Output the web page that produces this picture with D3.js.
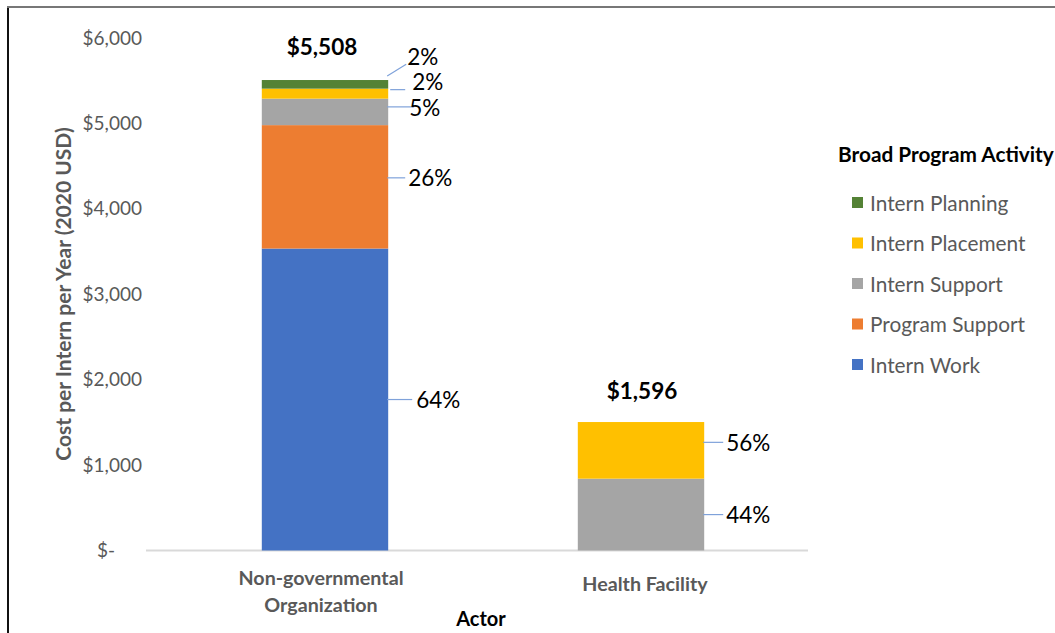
<!DOCTYPE html>
<html><head><meta charset="utf-8">
<script src="https://cdn.jsdelivr.net/npm/d3@7"></script>
<style>
html,body{margin:0;padding:0;background:#fff;}
svg{display:block;font-family:Lato,"Open Sans",sans-serif;}
</style></head>
<body>
<svg id="chart" width="1055" height="633"></svg>
<script>
// ---- data ----
const categories = ["Non-governmental Organization", "Health Facility"];
const categoryLines = [["Non-governmental", "Organization"], ["Health Facility"]];
const seriesNames = ["Intern Work", "Program Support", "Intern Support", "Intern Placement", "Intern Planning"];
const internWork      = [3535, 0];
const programSupport  = [1445, 0];
const internSupport   = [310, 841];
const internPlacement = [117, 663];
const internPlanning  = [101, 0];
const totalLabels = ["$5,508", "$1,596"];
const pctNGO = ["64%", "26%", "5%", "2%", "2%"];
const pctHF  = [null, null, "44%", "56%", null];
const yTicks = [0, 1000, 2000, 3000, 4000, 5000, 6000];
const colors = ["#4472C4", "#ED7D31", "#A5A5A5", "#FFC000", "#548235"];

const seriesValues = [internWork, programSupport, internSupport, internPlacement, internPlanning];
const pctLabels = [pctNGO, pctHF];

// ---- layout ----
const svg = d3.select("#chart");
// border
svg.append("line").attr("x1", 8).attr("y1", 7).attr("x2", 8).attr("y2", 633).attr("stroke", "#111").attr("stroke-width", 2);
svg.append("line").attr("x1", 7).attr("y1", 7).attr("x2", 1055).attr("y2", 7).attr("stroke", "#777").attr("stroke-width", 2);

const x = d3.scaleBand().domain(categories).range([167, 799]).paddingInner(0.6).paddingOuter(0.3);
const y = d3.scaleLinear().domain([0, 6000]).range([550.5, 38]);

// y axis labels
const yAxis = d3.axisLeft(y).tickValues(yTicks).tickSize(0).tickPadding(4)
  .tickFormat(d => d === 0 ? "$-" : "$" + d3.format(",")(d));
const gy = svg.append("g").attr("transform", "translate(146,0)").call(yAxis);
gy.select(".domain").remove();
gy.selectAll("text").attr("font-size", 19).attr("fill", "#595959").attr("font-family", "Lato")
  .attr("dx", d => d === 0 ? -27 : 0);

// baseline
svg.append("line").attr("x1", 146).attr("x2", 808).attr("y1", y(0)).attr("y2", y(0))
  .attr("stroke", "#D9D9D9").attr("stroke-width", 2);

// stacked data
const rows = categories.map((c, i) => {
  const o = { cat: c };
  seriesNames.forEach((s, j) => o[s] = seriesValues[j][i]);
  return o;
});
const stack = d3.stack().keys(seriesNames)(rows);

stack.forEach((layer, j) => {
  svg.append("g").selectAll("rect").data(layer).join("rect")
    .attr("x", d => x(d.data.cat))
    .attr("width", x.bandwidth())
    .attr("y", d => y(d[1]))
    .attr("height", d => y(d[0]) - y(d[1]))
    .attr("fill", colors[j]);
});

// percent labels with leader lines
const nudge = [[0, -9, -5, -4, -20], [0, 0, 0, -8, 0]]; // label y offset from segment middle
const textDy = [[0, 0, 1, -8, -8], [0, 0, 0, 0, 0]];
const lineStartDx = [[0, 0, 0, 3, 0], [0, 0, 0, 0, 0]];
const lineEndDx = [[24, 17, 26, 17, 18], [19, 19, 19, 19, 19]];
const textDx = [[28, 20, 21, 24, 19], [22, 22, 22, 22, 22]];
const lbl = svg.append("g");
stack.forEach((layer, j) => {
  layer.forEach((d, i) => {
    const t = pctLabels[i][j];
    if (!t) return;
    const xr = x(d.data.cat) + x.bandwidth();
    const mid = (y(d[0]) + y(d[1])) / 2;
    const ly = mid + nudge[i][j];
    if (j === 4 && i === 0) {
      lbl.append("line").attr("x1", xr - 1).attr("y1", y(d[1]) - 4).attr("x2", xr + lineEndDx[i][j]).attr("y2", ly)
        .attr("stroke", "#7FA2DA").attr("stroke-width", 1.2);
    } else {
      lbl.append("line").attr("x1", xr - 1 + lineStartDx[i][j]).attr("y1", ly).attr("x2", xr + lineEndDx[i][j]).attr("y2", ly)
        .attr("stroke", "#7FA2DA").attr("stroke-width", 1.2);
    }
    lbl.append("text").attr("x", xr + textDx[i][j]).attr("y", ly + textDy[i][j])
      .attr("dominant-baseline", "central").attr("font-size", 22.5).attr("fill", "#000").text(t);
  });
});

// totals
const catDx = [-4, 4];
const totals = rows.map(r => d3.sum(seriesNames, s => r[s]));
svg.append("g").selectAll("text").data(categories).join("text")
  .attr("x", (d, i) => x(d) + x.bandwidth() / 2 + (i === 0 ? -3 : 1))
  .attr("y", (d, i) => y(totals[i]) - (i === 0 ? 34 : 32))
  .attr("text-anchor", "middle").attr("dominant-baseline", "central")
  .attr("font-size", 22.5).attr("font-weight", "bold").attr("fill", "#000")
  .text((d, i) => totalLabels[i]);

// x category labels
categories.forEach((c, i) => {
  const lines = categoryLines[i];
  const t = svg.append("text").attr("text-anchor", "middle").attr("font-size", 19.7)
    .attr("font-weight", "bold").attr("fill", "#595959");
  lines.forEach((l, k) => {
    const cy = lines.length === 1 ? 583 : 577 + k * 27;
    t.append("tspan").attr("x", x(c) + x.bandwidth() / 2 + catDx[i]).attr("y", cy).attr("dominant-baseline", "central").text(l);
  });
});

// axis titles
svg.append("text").attr("x", 481).attr("y", 618).attr("text-anchor", "middle").attr("dominant-baseline", "central")
  .attr("font-size", 20).attr("font-weight", "bold").attr("fill", "#000").text("Actor");
svg.append("text").attr("transform", "translate(62,294) rotate(-90)").attr("text-anchor", "middle")
  .attr("dominant-baseline", "central").attr("font-size", 21).attr("font-weight", "bold").attr("fill", "#595959")
  .text("Cost per Intern per Year (2020 USD)");

// legend
const leg = svg.append("g");
leg.append("text").attr("x", 838).attr("y", 153).attr("dominant-baseline", "central")
  .attr("font-size", 20.8).attr("font-weight", "bold").attr("fill", "#000").text("Broad Program Activity");
const legOrder = seriesNames.map((s, j) => j).reverse();
legOrder.forEach((j, k) => {
  const cy = 202 + k * 40.5;
  leg.append("rect").attr("x", 852).attr("y", cy - 5).attr("width", 11).attr("height", 11).attr("fill", colors[j]);
  leg.append("text").attr("x", 870).attr("y", cy).attr("dominant-baseline", "central")
    .attr("font-size", 20.8).attr("fill", "#595959").text(seriesNames[j]);
});
</script>
</body></html>
